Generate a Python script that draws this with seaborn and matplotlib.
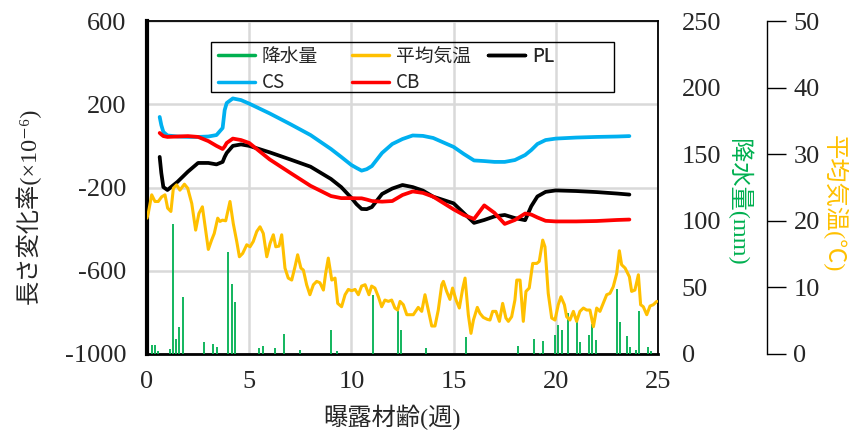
import matplotlib
matplotlib.use("Agg")
import matplotlib.pyplot as plt
from matplotlib.lines import Line2D
from matplotlib.patches import Rectangle
import numpy as np
import pandas as pd
import seaborn as sns

sns.set_style("white")
plt.rcParams["font.family"] = ["Liberation Serif", "Noto Sans CJK JP", "DejaVu Sans"]
plt.rcParams["axes.unicode_minus"] = False

# ---- length change (x10^-6) of the three specimens ----
strain_weeks = [0.62, 0.7, 0.8, 1.0, 1.5, 2.0, 2.5, 3.0, 3.4, 3.7, 3.8, 3.9, 4.2, 4.6,
                5.0, 6.0, 7.0, 8.0, 9.0, 9.5, 10.0, 10.25, 10.5, 10.75, 11.0, 11.5, 12.0,
                12.5, 13.0, 13.5, 14.0, 15.0, 15.5, 16.0, 16.5, 17.0, 17.5, 18.0, 18.5,
                18.8, 19.1, 19.5, 20.0, 21.0, 22.0, 23.0, 23.6]
pl = [-53, -130, -198, -212, -172, -124, -82, -82, -89, -77, -53, -34, 0, 7,
      0, -31, -65, -100, -159, -198, -250, -280, -303, -304, -294, -231, -205,
      -188, -198, -215, -244, -276, -323, -370, -356, -339, -332, -347, -357,
      -290, -243, -221, -214, -217, -222, -229, -234]
cs = [139, 100, 67, 50, 45, 43, 43, 45, 52, 86, 172, 206, 228, 220,
      203, 156, 105, 52, -15, -53, -92, -106, -119, -112, -97, -34, 9,
      33, 50, 48, 38, -5, -39, -70, -73, -77, -77, -68, -44,
      -20, 9, 28, 35, 40, 43, 45, 47]
cb = [62, 55, 47, 43, 45, 47, 43, 23, 0, -15, -3, 14, 35, 28,
      14, -65, -129, -192, -241, -251, -251, -252, -252, -258, -265, -268, -265,
      -236, -219, -226, -244, -305, -332, -351, -286, -322, -375, -356, -325,
      -330, -344, -360, -363, -363, -361, -356, -354]

# ---- daily mean air temperature (deg C) ----
temp_weeks = [0.0, 0.06, 0.23, 0.39, 0.55, 0.72, 0.88, 1.01, 1.17, 1.29, 1.45, 1.61, 1.83,
              1.99, 2.19, 2.38, 2.54, 2.71, 2.87, 3.00, 3.16, 3.29, 3.46, 3.57, 3.69, 3.85,
              4.06, 4.22, 4.39, 4.52, 4.68, 4.88, 5.04, 5.20, 5.37, 5.53, 5.69, 5.86, 6.02,
              6.18, 6.30, 6.46, 6.59, 6.75, 6.91, 7.08, 7.24, 7.37, 7.53, 7.65, 7.81, 7.97,
              8.14, 8.30, 8.46, 8.63, 8.74, 8.87, 9.04, 9.20, 9.33, 9.52, 9.69, 9.85, 10.01,
              10.18, 10.34, 10.50, 10.67, 10.86, 10.99, 11.15, 11.32, 11.48, 11.64, 11.81,
              11.97, 12.13, 12.26, 12.38, 12.54, 12.71, 12.87, 13.03, 13.27, 13.44, 13.60,
              13.76, 13.93, 14.09, 14.25, 14.42, 14.50, 14.66, 14.82, 14.95, 15.12, 15.28,
              15.45, 15.56, 15.72, 15.85, 15.97, 16.16, 16.29, 16.45, 16.65, 16.78, 16.91,
              17.07, 17.24, 17.40, 17.56, 17.68, 17.84, 18.00, 18.09, 18.25, 18.41, 18.54,
              18.70, 18.87, 19.07, 19.19, 19.36, 19.47, 19.63, 19.80, 19.96, 20.12, 20.25,
              20.42, 20.53, 20.69, 20.86, 21.02, 21.18, 21.35, 21.51, 21.67, 21.84, 22.00,
              22.16, 22.32, 22.49, 22.65, 22.81, 22.98, 23.11, 23.22, 23.39, 23.60, 23.71,
              23.87, 24.04, 24.15, 24.28, 24.45, 24.61, 24.77, 24.94]
temp_c = [20.4, 21.1, 23.9, 22.9, 22.9, 23.6, 23.9, 21.9, 21.4, 24.9, 25.4, 24.6, 25.5,
          24.9, 22.6, 18.6, 21.1, 22.1, 18.6, 15.7, 17.1, 18.1, 20.4, 19.9, 20.1, 20.0,
          22.9, 19.6, 16.9, 14.6, 15.1, 16.4, 16.1, 16.9, 18.4, 19.1, 18.1, 14.6, 16.6,
          17.9, 16.1, 16.2, 17.9, 12.9, 11.4, 11.1, 13.1, 14.9, 12.9, 12.6, 10.4, 8.9,
          10.4, 10.9, 10.7, 9.6, 12.1, 14.4, 11.1, 11.4, 7.6, 7.1, 8.9, 9.7, 9.5,
          9.7, 8.9, 10.2, 10.4, 8.9, 10.2, 9.9, 8.6, 7.1, 8.1, 7.9,
          8.1, 6.9, 6.6, 7.9, 7.4, 5.9, 5.9, 5.9, 7.0, 6.4, 8.9,
          6.6, 4.2, 4.2, 6.6, 10.4, 10.9, 9.4, 8.2, 9.9, 8.1, 6.9,
          9.9, 11.4, 5.9, 3.1, 5.1, 7.0, 6.1, 5.5, 5.2, 5.1, 6.4,
          6.4, 4.9, 7.6, 5.4, 4.9, 5.6, 8.1, 11.1, 11.1, 4.9, 9.4,
          9.9, 13.6, 13.6, 13.9, 17.1, 16.1, 9.1, 5.4, 5.1, 7.4, 8.6,
          7.4, 5.6, 5.1, 6.4, 4.9, 6.4, 6.9, 6.6, 6.6, 4.1, 6.9,
          6.4, 7.6, 8.9, 9.1, 10.1, 12.1, 15.5, 13.4, 12.9, 11.6, 9.4,
          9.6, 11.9, 7.4, 7.1, 5.9, 7.2, 7.4, 7.9]

# ---- daily precipitation (mm) ----
rain_weeks = [0.23, 0.39, 0.52, 1.13, 1.26, 1.42, 1.58, 1.74, 2.79, 3.24, 3.41, 3.98,
              4.14, 4.31, 5.49, 5.66, 6.26, 6.70, 7.48, 8.99, 9.28, 11.07, 12.28, 12.44,
              13.65, 15.61, 18.17, 18.93, 19.23, 19.39, 19.96, 20.12, 20.29, 20.58, 21.02,
              21.18, 21.62, 21.79, 21.95, 22.98, 23.14, 23.47, 23.63, 23.91, 24.07, 24.50,
              24.66]
rain_mm = [6.8, 6.8, 2.3, 3.5, 97.6, 11.0, 20.0, 42.8, 8.8, 7.5, 5.0, 76.8,
           52.6, 38.8, 4.3, 6.2, 4.7, 15.0, 3.0, 17.8, 2.5, 44.3, 32.3, 18.0,
           4.7, 13.0, 6.0, 11.0, 1.0, 9.8, 14.3, 21.8, 18.0, 30.5, 25.5,
           9.2, 14.3, 22.5, 10.5, 48.8, 24.3, 13.5, 5.5, 3.0, 32.5, 5.0,
           2.3]

x_ticks = [0, 5, 10, 15, 20, 25]
strain_ticks = [-1000, -600, -200, 200, 600]
rain_ticks = [0, 50, 100, 150, 200, 250]
temp_ticks = [0, 10, 20, 30, 40, 50]

C_PL, C_CS, C_CB = "#000000", "#00B0F0", "#FF0000"
C_TEMP, C_RAIN = "#FFC000", "#00B050"
GRID = "#D9D9D9"
LABEL_FONT = ["Liberation Serif", "Noto Sans CJK JP", "DejaVu Sans"]
LEGEND_FONT = {"family": ["Noto Sans CJK JP", "DejaVu Sans"], "size": 13.5}
TICK_SIZE = 19
LABEL_SIZE = 17.5

strain = pd.DataFrame({"week": strain_weeks, "PL": pl, "CS": cs, "CB": cb})
weather = pd.DataFrame({"week": temp_weeks, "temp": temp_c})

fig = plt.figure(figsize=(8.49, 4.37), dpi=100)
ax = fig.add_axes([147 / 849, 83 / 437, 511 / 849, 333 / 437])
ax_rain = ax.twinx()
ax_temp = ax.twinx()

# main axis: length change
ax.set_xlim(0, 25)
ax.set_ylim(-1000, 600)
ax.set_xticks(x_ticks)
ax.set_yticks(strain_ticks)
ax.grid(True, color=GRID, lw=1.8)
ax.set_axisbelow(True)
for name, col in (("PL", C_PL), ("CS", C_CS), ("CB", C_CB)):
    sns.lineplot(data=strain, x="week", y=name, ax=ax, color=col, lw=2.7,
                 label=name, legend=False)
ax.tick_params(axis="both", length=0, labelsize=TICK_SIZE)
ax.tick_params(axis="y", pad=15)
ax.tick_params(axis="x", pad=12)
ax.spines["left"].set_linewidth(3.0)
ax.spines["bottom"].set_linewidth(2.0)
for s in ("top", "right"):
    ax.spines[s].set_linewidth(1.3)
for s in ax.spines.values():
    s.set_color("black")
ax.set_xlabel("曝露材齢(週)", fontsize=LABEL_SIZE, family=LABEL_FONT, va="center")
ax.xaxis.set_label_coords(0.48, -0.19)
ax.set_ylabel("長さ変化率(×10⁻⁶)", fontsize=LABEL_SIZE, family=LABEL_FONT, va="center")
ax.yaxis.set_label_coords(-0.233, 0.444)

# precipitation on the first right axis
ax_rain.set_ylim(0, 250)
ax_rain.set_yticks(rain_ticks)
ax_rain.vlines(rain_weeks, 0, rain_mm, color=C_RAIN, lw=1.3)
ax_rain.tick_params(axis="y", length=0, labelsize=TICK_SIZE, pad=17)
for s in ax_rain.spines.values():
    s.set_visible(False)
ax_rain.set_ylabel("降水量(mm)", fontsize=LABEL_SIZE, family=LABEL_FONT, color=C_RAIN,
                   rotation=270, va="center")
ax_rain.yaxis.set_label_coords(1.157, 0.455)

# temperature on an offset second right axis
ax_temp.set_ylim(0, 50)
ax_temp.set_yticks(temp_ticks)
sns.lineplot(data=weather, x="week", y="temp", ax=ax_temp, color=C_TEMP, lw=2.2,
             legend=False)
for s in ("top", "left", "bottom"):
    ax_temp.spines[s].set_visible(False)
ax_temp.spines["right"].set_position(("axes", 620 / 511))
ax_temp.spines["right"].set_linewidth(1.0)
ax_temp.spines["right"].set_color("black")
ax_temp.tick_params(axis="y", direction="out", length=14, width=1.0, color="black",
                    labelsize=TICK_SIZE, pad=5)
ax_temp.set_ylabel("平均気温(℃)", fontsize=LABEL_SIZE, family=LABEL_FONT, color=C_TEMP,
                   rotation=270, va="center")
ax_temp.yaxis.set_label_coords(1.346, 0.45)
ax_temp.set_xlim(0, 25)

# legend: three equal-width columns inside a plain rectangular frame
def handle(c):
    return Line2D([], [], color=c, lw=2.5)

columns = [
    ([handle(C_RAIN), handle(C_CS)], ["降水量", "CS"], 0.139),
    ([handle(C_TEMP), handle(C_CB)], ["平均気温", "CB"], 0.401),
    ([handle(C_PL)], ["PL"], 0.667),
]
for hs, ls, x0 in columns:
    lg = ax_temp.legend(hs, ls, loc="upper left", bbox_to_anchor=(x0, 0.925),
                        borderaxespad=0, borderpad=0, frameon=False, prop=LEGEND_FONT,
                        handlelength=1.97, handletextpad=0.37, labelspacing=0.28)
    ax_temp.add_artist(lg)
ax_temp.add_patch(Rectangle((0.1252, 0.7868), 0.7887, 0.1502, transform=ax_temp.transAxes,
                            fill=False, edgecolor="black", lw=1.0, clip_on=False,
                            zorder=5))

fig.savefig("out.png", dpi=100)
